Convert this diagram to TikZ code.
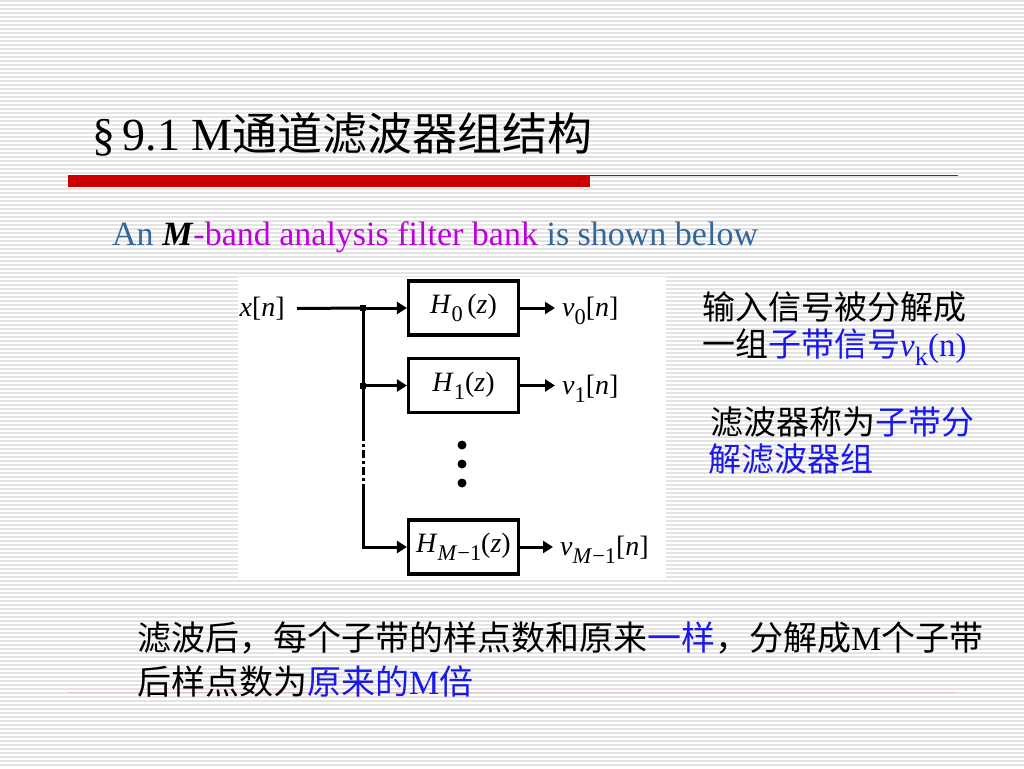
\documentclass[tikz,border=0pt]{standalone}
\usepackage{fontspec}
\setmainfont{Liberation Serif}
\newfontfamily\cjk{Noto Sans CJK SC}
\usetikzlibrary{arrows.meta}
\definecolor{stripecol}{RGB}{228,228,228}
\definecolor{barred}{RGB}{204,0,0}
\definecolor{thinred}{RGB}{226,190,190}
\definecolor{steel}{RGB}{51,102,153}
\definecolor{violettxt}{RGB}{190,0,220}
\definecolor{txtblue}{RGB}{25,25,235}
\newcommand{\mysub}[1]{\raisebox{-0.6ex}{\scalebox{0.8}{#1}}}
\newcommand{\lat}[1]{{\rmfamily #1}}
\begin{document}
\begin{tikzpicture}[x=1pt,y=-1pt,
  stripe/.style={draw=stripecol,line width=1.4pt},
  wire/.style={line width=3pt},
  arr/.style={wire,-{Triangle[length=10pt,width=12pt]}},
  filt/.style={draw,line width=3.2pt,minimum width=110pt,minimum height=54pt,inner sep=0pt,font=\fontsize{28}{28}\selectfont},
  sig/.style={font=\fontsize{28}{28}\selectfont,inner ysep=0pt,inner xsep=7pt,anchor=west},
  junc/.style={fill,minimum size=6pt,inner sep=0pt},
  bigdot/.style={circle,fill,minimum size=9pt,inner sep=0pt},
  cn/.style={font=\cjk\fontsize{33}{33}\selectfont,inner sep=0pt,anchor=west},
  cnb/.style={font=\cjk\fontsize{34}{34}\selectfont,inner sep=0pt,anchor=west}]
\useasboundingbox (0,0) rectangle (1024,768);
\fill[white] (0,0) rectangle (1024,768);
\foreach \y in {1,5,...,768} \draw[stripe] (0,\y) -- (1024,\y);
% diagram background
\fill[white] (238,277) rectangle (666,579);
% title and rules
\node[anchor=base west,inner sep=0pt] (title) at (92,150)
  {\fontsize{46}{46}\selectfont §\,9.1 M{\cjk\fontsize{45}{45}\selectfont 通道滤波器组结构}};
\fill[barred] (68,175) rectangle (590,187);
\draw[barred,line width=1.2pt] (590,175.5) -- (958,175.5);
\draw[thinred,line width=1pt] (68,692) -- (955,692);
% subtitle
\node[anchor=base west,inner sep=0pt] (sub) at (112,245)
  {\fontsize{34}{34}\selectfont \textcolor{steel}{An} \textbf{\textit{M}}\textcolor{violettxt}{-band analysis filter bank} \textcolor{steel}{is shown below}};
% filter bank
\node[filt] (h0) at (463.5,308) {\textit{H}\mysub{0}\,(\textit{z})};
\node[filt] (h1) at (463.5,385.5) {\textit{H}\mysub{1}(\textit{z})};
\node[filt] (hm) at (463.5,547) {\textit{H}\mysub{\textit{M}−1}(\textit{z})};
\node[font=\fontsize{28}{28}\selectfont,inner ysep=0pt,inner xsep=12pt,anchor=east] (xin) at (297,308.5) {\textit{x}[\textit{n}]};
\coordinate (j0) at (363,308);
\coordinate (j1) at (363,385.5);
\coordinate (d1) at (363,433);
\coordinate (d2) at (363,487);
\node[sig] (v0) at (555,311) {\textit{v}\mysub{0}[\textit{n}]};
\node[sig] (v1) at (555,389) {\textit{v}\mysub{1}[\textit{n}]};
\node[sig] (vm) at (553,550) {\textit{v}\mysub{\textit{M}−1}[\textit{n}]};
\draw[wire] (xin.east) -- (j0);
\draw[wire] (j0) -- (d1);
\draw[wire,dash pattern=on 8pt off 3pt on 3pt off 3pt] (d1) -- (d2);
\draw[arr] (d2) |- (hm.west);
\draw[arr] (j0) -- (h0.west);
\draw[arr] (j1) -- (h1.west);
\node[junc] (jd0) at (j0) {};
\node[junc] (jd1) at (j1) {};
\draw[arr] (h0.east) -- (h0.east -| v0.west);
\draw[arr] (h1.east) -- (h1.east -| v1.west);
\draw[arr] (hm.east) -- (hm.east -| vm.west);
\node[bigdot] (dot1) at (462,445) {};
\node[bigdot] (dot2) at (462,464) {};
\node[bigdot] (dot3) at (462,483) {};
% right notes
\node[cn] (r1) at (702,307) {输入信号被分解成};
\node[cn] (r2) at (702,347) {一组\textcolor{txtblue}{子带信号\lat{\textit{v}\mysub{k}(n)}}};
\node[cn] (r3) at (710,422) {滤波器称为\textcolor{txtblue}{子带分}};
\node[cn] (r4) at (708,459) {\textcolor{txtblue}{解滤波器组}};
% bottom notes
\node[cnb] (b1) at (137,638) {滤波后，每个子带的样点数和原来\textcolor{txtblue}{一样}，分解成\lat{M}个子带};
\node[cnb] (b2) at (137,681) {后样点数为\textcolor{txtblue}{原来的\lat{M}倍}};
\end{tikzpicture}
\end{document}
